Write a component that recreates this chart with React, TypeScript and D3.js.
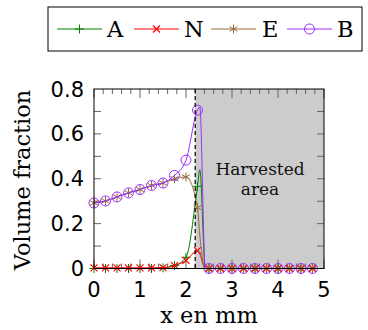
import * as d3 from "d3";

// ── Data ──────────────────────────────────────────────────────
const XS = [0, 0.25, 0.5, 0.75, 1, 1.25, 1.5, 1.75, 2, 2.25, 2.5, 2.75, 3, 3.25, 3.5, 3.75, 4, 4.25, 4.5, 4.75];

const A_VALS = [0, 0, 0, 0, 0, 0, 0.003, 0.013, 0.05, 0.366, 0, 0, 0, 0, 0, 0, 0, 0, 0, 0];
const N_VALS = [0.003, 0.003, 0.003, 0.003, 0.003, 0.003, 0.004, 0.013, 0.036, 0.08, 0, 0, 0, 0, 0, 0, 0, 0, 0, 0];
const E_VALS = [0.292, 0.301, 0.319, 0.337, 0.352, 0.37, 0.381, 0.4, 0.408, 0.271, 0, 0, 0, 0, 0, 0, 0, 0, 0, 0];
const B_VALS = [0.292, 0.301, 0.319, 0.337, 0.352, 0.37, 0.381, 0.415, 0.483, 0.706, 0, 0, 0, 0, 0, 0, 0, 0, 0, 0];

// finer simulation points between markers (no marks drawn)
const XS_EXTRA = [2.3, 2.42];
const A_EXTRA = [0.44, 0];
const N_EXTRA = [0.065, 0];
const E_EXTRA = [0.15, 0];
const B_EXTRA = [0.72, 0];

const SERIES = [
  { name: "A", vals: A_VALS, extra: A_EXTRA, color: "#008000", mark: "plus" },
  { name: "N", vals: N_VALS, extra: N_EXTRA, color: "#ff0000", mark: "x" },
  { name: "E", vals: E_VALS, extra: E_EXTRA, color: "#98683a", mark: "star" },
  { name: "B", vals: B_VALS, extra: B_EXTRA, color: "#9b30ff", mark: "circle" },
];

const X_TICKS = [0, 1, 2, 3, 4, 5];
const Y_TICKS = [0, 0.2, 0.4, 0.6, 0.8];
const HARVEST_X = 2.2;

// ── Geometry ──────────────────────────────────────────────────
const W = 368;
const H = 330;
const L = 94, R = 324, T = 89, B = 268.5;

const x = d3.scaleLinear().domain([0, 5]).range([L, R]);
const y = d3.scaleLinear().domain([0, 0.8]).range([B, T]);

function Marker({ kind, cx, cy, color }: { kind: string; cx: number; cy: number; color: string }) {
  if (kind === "plus") {
    const r = 4.5;
    return (
      <path d={`M${cx - r},${cy}H${cx + r}M${cx},${cy - r}V${cy + r}`} stroke={color} strokeWidth={1} fill="none" />
    );
  }
  if (kind === "x") {
    const r = 3.5;
    return (
      <path d={`M${cx - r},${cy - r}L${cx + r},${cy + r}M${cx - r},${cy + r}L${cx + r},${cy - r}`} stroke={color} strokeWidth={1.2} fill="none" />
    );
  }
  if (kind === "star") {
    const r = 4.5;
    const dx = r * Math.cos(Math.PI / 6);
    const dy = r * Math.sin(Math.PI / 6);
    return (
      <path
        d={`M${cx},${cy - r}V${cy + r}M${cx - dx},${cy - dy}L${cx + dx},${cy + dy}M${cx - dx},${cy + dy}L${cx + dx},${cy - dy}`}
        stroke={color} strokeWidth={1} fill="none"
      />
    );
  }
  return <circle cx={cx} cy={cy} r={5} stroke={color} strokeWidth={1} fill="none" />;
}

export default function App() {
  const line = d3
    .line<[number, number]>()
    .x((d) => x(d[0]))
    .y((d) => y(d[1]))
    .curve(d3.curveMonotoneX);

  const minorX = d3.range(0, 5.01, 0.2).filter((t) => Math.abs(t - Math.round(t)) > 1e-6);
  const yTickAll = d3.range(0.1, 0.8, 0.1);

  const legendItems = [
    { x1: 57, tx: 107 },
    { x1: 134, tx: 184 },
    { x1: 211, tx: 262 },
    { x1: 287, tx: 337 },
  ];

  return (
    <svg width={W} height={H} style={{ position: "absolute", left: 0, top: 0, background: "#fff" }}>
      {/* Harvested area */}
      <rect x={x(HARVEST_X)} y={T} width={R - x(HARVEST_X)} height={B - T} fill="#cccccc" />

      {/* Ticks */}
      {yTickAll.map((t) => (
        <g key={`yt-${t}`} stroke="#666" strokeWidth={1}>
          <line x1={L} x2={L + 7} y1={y(t)} y2={y(t)} />
          <line x1={R - 7} x2={R} y1={y(t)} y2={y(t)} />
        </g>
      ))}
      {minorX.map((t) => (
        <g key={`xm-${t}`} stroke="#666" strokeWidth={1}>
          <line x1={x(t)} x2={x(t)} y1={T} y2={T + 5} />
          <line x1={x(t)} x2={x(t)} y1={B - 5} y2={B} />
        </g>
      ))}
      {X_TICKS.map((t) => (
        <g key={`xM-${t}`} stroke="#666" strokeWidth={1}>
          <line x1={x(t)} x2={x(t)} y1={T} y2={T + 9} />
          <line x1={x(t)} x2={x(t)} y1={B - 9} y2={B} />
        </g>
      ))}

      {/* Series */}
      {SERIES.map((s) => {
        const pts: [number, number][] = XS.map((xv, i) => [xv, s.vals[i]] as [number, number]);
        XS_EXTRA.forEach((xv, i) => pts.push([xv, s.extra[i]]));
        pts.sort((a, b) => a[0] - b[0]);
        return (
          <g key={s.name}>
            <path d={line(pts) ?? ""} fill="none" stroke={s.color} strokeWidth={1} />
            {XS.map((xv, i) => (
              <Marker key={i} kind={s.mark} cx={x(xv)} cy={y(s.vals[i])} color={s.color} />
            ))}
          </g>
        );
      })}

      {/* Harvest boundary */}
      <line x1={x(HARVEST_X)} x2={x(HARVEST_X)} y1={T} y2={B} stroke="#000" strokeWidth={1.2} strokeDasharray="4,3" />

      {/* Frame */}
      <rect x={L} y={T} width={R - L} height={B - T} fill="none" stroke="#000" strokeWidth={1} />

      <text x={260} y={175} textAnchor="middle" fontFamily="DejaVu Serif" fontSize={17} fill="#111">Harvested</text>
      <text x={260} y={195} textAnchor="middle" fontFamily="DejaVu Serif" fontSize={17} fill="#111">area</text>

      {/* Tick labels */}
      {Y_TICKS.map((t) => (
        <text key={`yl-${t}`} x={84} y={y(t)} dy="0.36em" textAnchor="end" fontFamily="DejaVu Sans" fontSize={21} fill="#000">
          {t === 0 ? "0" : t.toFixed(1)}
        </text>
      ))}
      {X_TICKS.map((t) => (
        <text key={`xl-${t}`} x={x(t)} y={297} textAnchor="middle" fontFamily="DejaVu Sans" fontSize={21} fill="#000">
          {t}
        </text>
      ))}

      {/* Axis labels */}
      <text x={209} y={323} textAnchor="middle" fontFamily="DejaVu Serif" fontSize={22.5} fill="#000">x en mm</text>
      <text
        x={30} y={180} textAnchor="middle" fontFamily="DejaVu Serif" fontSize={22.5} fill="#000"
        transform="rotate(-90, 30, 180)"
      >
        Volume fraction
      </text>

      {/* Legend */}
      <rect x={48} y={7} width={314} height={44} fill="#fff" stroke="#000" strokeWidth={1} />
      {SERIES.map((s, i) => {
        const it = legendItems[i];
        return (
          <g key={`lg-${s.name}`}>
            <line x1={it.x1} x2={it.x1 + 45} y1={29} y2={29} stroke={s.color} strokeWidth={1} />
            <Marker kind={s.mark} cx={it.x1 + 22.5} cy={29} color={s.color} />
            <text x={it.tx} y={37} fontFamily="DejaVu Serif" fontSize={22.5} fill="#000">{s.name}</text>
          </g>
        );
      })}
    </svg>
  );
}
